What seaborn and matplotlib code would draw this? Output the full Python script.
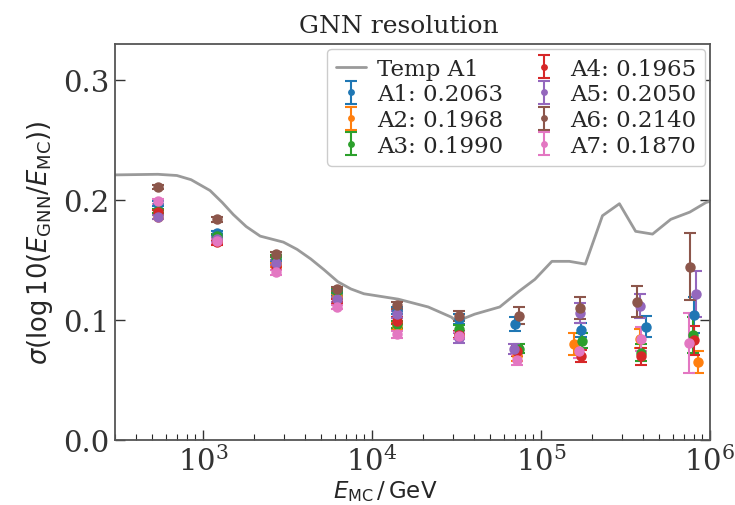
import numpy as np
import pandas as pd
import seaborn as sns
import matplotlib
matplotlib.use("Agg")
import matplotlib.pyplot as plt

# ---------------- data ----------------
temp_E = [300, 540, 700, 850, 1100, 1300, 1510, 1800, 2180, 2990, 3600, 4340, 5200,
          6280, 7500, 8950, 14300, 21500, 29500, 31600, 40500, 57000, 74000, 92000,
          116000, 147000, 183000, 231000, 291000, 363000, 457000, 586000, 759000,
          946000, 1000000]
temp_sigma = [0.221, 0.2215, 0.2205, 0.217, 0.208, 0.198, 0.188, 0.178, 0.170, 0.165,
              0.159, 0.151, 0.142, 0.132, 0.126, 0.122, 0.1175, 0.111, 0.1025, 0.099,
              0.105, 0.111, 0.124, 0.134, 0.149, 0.149, 0.1467, 0.187, 0.197, 0.174,
              0.1717, 0.184, 0.190, 0.198, 0.199]

labels = ["A1: 0.2063", "A2: 0.1968", "A3: 0.1990", "A4: 0.1965",
          "A5: 0.2050", "A6: 0.2140", "A7: 0.1870"]

x_A1 = [540, 1210, 2720, 6200, 14100, 32500, 70500, 173000, 416000, 804000]
x_A2 = [540, 1210, 2720, 6200, 14100, 32500, 72000, 157000, 383000, 849000]
x_A3 = [540, 1210, 2720, 6200, 14100, 32500, 74000, 175000, 388000, 793000]
x_A4 = [540, 1210, 2720, 6200, 14100, 32500, 72000, 173000, 388000, 804000]
x_A5 = [540, 1210, 2720, 6200, 14100, 32500, 69500, 171000, 383000, 826000]
x_A6 = [540, 1210, 2720, 6200, 14100, 32500, 74000, 170000, 372000, 760000]
x_A7 = [540, 1210, 2720, 6200, 14100, 32500, 72000, 168000, 388000, 750000]

y_A1 = [0.197, 0.1725, 0.151, 0.123, 0.108, 0.101, 0.0967, 0.092, 0.0947, 0.104]
y_A2 = [0.186, 0.166, 0.146, 0.120, 0.095, 0.088, 0.070, 0.080, 0.0845, 0.065]
y_A3 = [0.191, 0.170, 0.1525, 0.1245, 0.0967, 0.093, 0.0764, 0.083, 0.073, 0.088]
y_A4 = [0.190, 0.165, 0.144, 0.116, 0.0995, 0.088, 0.0744, 0.070, 0.070, 0.0833]
y_A5 = [0.186, 0.1675, 0.148, 0.1175, 0.105, 0.085, 0.0758, 0.106, 0.112, 0.1217]
y_A6 = [0.211, 0.184, 0.155, 0.126, 0.1125, 0.1036, 0.1036, 0.110, 0.1153, 0.1447]
y_A7 = [0.199, 0.166, 0.140, 0.111, 0.0883, 0.087, 0.0669, 0.0744, 0.084, 0.081]

e_A1 = [0.002, 0.002, 0.002, 0.002, 0.003, 0.004, 0.006, 0.006, 0.009, 0.015]
e_A2 = [0.002, 0.002, 0.002, 0.002, 0.003, 0.003, 0.004, 0.009, 0.008, 0.009]
e_A3 = [0.002, 0.002, 0.002, 0.002, 0.003, 0.003, 0.004, 0.006, 0.007, 0.015]
e_A4 = [0.002, 0.002, 0.002, 0.002, 0.003, 0.003, 0.004, 0.005, 0.007, 0.012]
e_A5 = [0.002, 0.002, 0.002, 0.002, 0.003, 0.004, 0.004, 0.008, 0.010, 0.019]
e_A6 = [0.002, 0.002, 0.002, 0.002, 0.003, 0.004, 0.007, 0.009, 0.013, 0.028]
e_A7 = [0.002, 0.002, 0.002, 0.002, 0.003, 0.003, 0.004, 0.006, 0.010, 0.025]

xs = [x_A1, x_A2, x_A3, x_A4, x_A5, x_A6, x_A7]
ys = [y_A1, y_A2, y_A3, y_A4, y_A5, y_A6, y_A7]
es = [e_A1, e_A2, e_A3, e_A4, e_A5, e_A6, e_A7]

# ---------------- style ----------------
sns.set_style("ticks")
plt.rcParams["font.family"] = ["DejaVu Serif"]
plt.rcParams["mathtext.fontset"] = "dejavusans"

palette = sns.color_palette("tab10", 7)

fig = plt.figure(figsize=(7.35, 5.06), dpi=100)
ax = fig.add_axes([0.156, 0.128, 0.81, 0.783])

temp_df = pd.DataFrame({"E": temp_E, "sigma": temp_sigma})
sns.lineplot(data=temp_df, x="E", y="sigma", ax=ax, color="#9a9a9a", lw=2,
             label="Temp A1", zorder=1)

for x, y, e, lab, c in zip(xs, ys, es, labels, palette):
    ax.errorbar(x, y, yerr=e, fmt="o", color=c, ms=6.5, capsize=4, elinewidth=1.5,
                capthick=1.5, label=lab)

ax.set_xscale("log")
ax.set_xlim(300, 1e6)
ax.set_ylim(0, 0.33)
ax.set_yticks([0.0, 0.1, 0.2, 0.3])
ax.set_xlabel(r"$E_\mathrm{MC}\,/\,\mathrm{GeV}$", fontsize=16.5)
ax.xaxis.set_label_coords(0.455, -0.095)
ax.set_ylabel(r"$\sigma(\log10(E_\mathrm{GNN}/E_\mathrm{MC}))$", fontsize=18.5,
              labelpad=6)
ax.set_title("GNN resolution", fontsize=18, pad=9, x=0.478)

ax.tick_params(axis="both", which="major", direction="in", length=7, width=1,
               labelsize=21, right=True, colors="#333333")
ax.tick_params(axis="x", which="minor", direction="in", length=4, width=0.8)
for s in ax.spines.values():
    s.set_color("#555555")
    s.set_linewidth(1.3)

ax.legend(ncol=2, loc="upper right", fontsize=16.5, handlelength=1.3,
          columnspacing=1.1, handletextpad=0.5, labelspacing=0.16,
          borderaxespad=0.2, borderpad=0.4, framealpha=1, edgecolor="#cccccc",
          markerscale=0.6)

fig.savefig("out.png", dpi=100)
